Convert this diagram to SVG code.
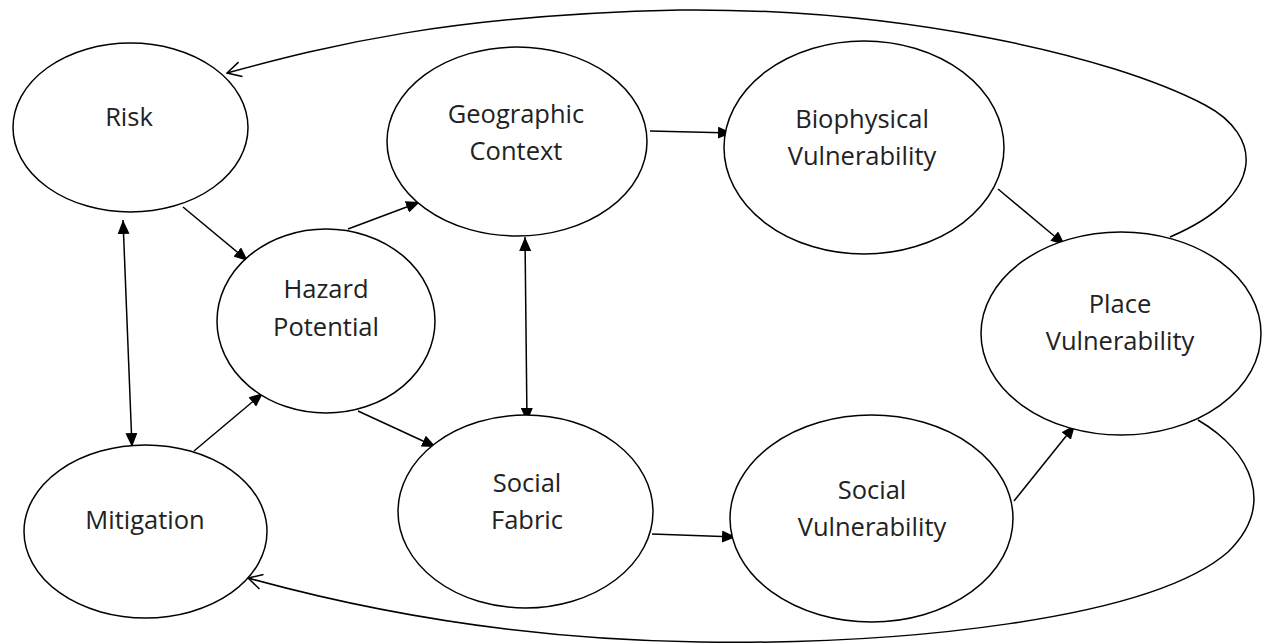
<svg xmlns="http://www.w3.org/2000/svg" width="1263" height="644" viewBox="0 0 1263 644">
<style>
.n ellipse{fill:#fff;stroke:#000;stroke-width:1.5}
.n text{font-family:"Open Sans","Noto Sans",sans-serif;font-size:25.5px;fill:#222;text-anchor:middle}
.c path{fill:none;stroke:#000;stroke-width:1.5}
</style>
<defs>
<marker id="a" viewBox="0 0 14 12" refX="14" refY="6" markerWidth="14" markerHeight="12" orient="auto-start-reverse" markerUnits="userSpaceOnUse"><path d="M0,0 L14,6 L0,12 z" fill="#000"/></marker>
<marker id="o" viewBox="0 0 16 18" refX="15" refY="9" markerWidth="16" markerHeight="18" orient="auto" markerUnits="userSpaceOnUse"><path d="M1,1.5 L15,9 L1,16.5" fill="none" stroke="#000" stroke-width="1.5"/></marker>
</defs>
<rect width="1263" height="644" fill="#fff"/>
<g class="c" id="connectors">
<path d="M1170,237 C1268,195 1262,135 1205,105 C1110,55 900,8 680,10 C450,15 330,45 227,73" marker-end="url(#o)"/>
<path d="M1198,420 C1252,452 1276,505 1228,552 C1150,620 900,645 700,642 C550,640 400,620 248,578" marker-end="url(#o)"/>
<path d="M183,207 L248,261" marker-end="url(#a)"/>
<path d="M348,229 L420,202" marker-end="url(#a)"/>
<path d="M650,131 L732,133" marker-end="url(#a)"/>
<path d="M525,237 L527,422" marker-start="url(#a)" marker-end="url(#a)"/>
<path d="M123,220 L132,447" marker-start="url(#a)" marker-end="url(#a)"/>
<path d="M194,451 L263,393" marker-end="url(#a)"/>
<path d="M358,411 L436,447" marker-end="url(#a)"/>
<path d="M652,534 L736,537" marker-end="url(#a)"/>
<path d="M998,189 L1065,245" marker-end="url(#a)"/>
<path d="M1014,501 L1075,425" marker-end="url(#a)"/>
</g>
<g class="n" id="risk"><ellipse cx="130.5" cy="127.5" rx="117.5" ry="84.5"/><text x="129" y="126">Risk</text></g>
<g class="n" id="hazard"><ellipse cx="326" cy="321" rx="109" ry="92"/><text x="326" y="298">Hazard</text><text x="326" y="336">Potential</text></g>
<g class="n" id="geo"><ellipse cx="517" cy="141.5" rx="130" ry="94.5"/><text x="516" y="123">Geographic</text><text x="516" y="160">Context</text></g>
<g class="n" id="bio"><ellipse cx="864" cy="147.5" rx="140" ry="106.5"/><text x="862" y="128">Biophysical</text><text x="862" y="165">Vulnerability</text></g>
<g class="n" id="place"><ellipse cx="1121" cy="333.5" rx="140" ry="101.5"/><text x="1120" y="313">Place</text><text x="1120" y="350">Vulnerability</text></g>
<g class="n" id="mitigation"><ellipse cx="145.5" cy="531.5" rx="121.5" ry="86.5"/><text x="145" y="529">Mitigation</text></g>
<g class="n" id="fabric"><ellipse cx="525.5" cy="511.5" rx="127.5" ry="96.5"/><text x="527" y="492">Social</text><text x="527" y="529">Fabric</text></g>
<g class="n" id="socvul"><ellipse cx="871.5" cy="518.5" rx="141.5" ry="103.5"/><text x="872" y="499">Social</text><text x="872" y="536">Vulnerability</text></g>
</svg>
